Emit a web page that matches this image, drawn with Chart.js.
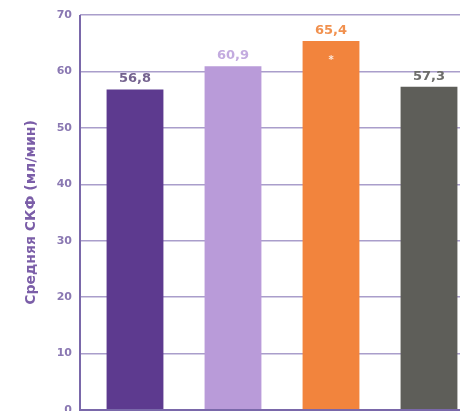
<!DOCTYPE html>
<html>
<head>
<meta charset="utf-8">
<script src="https://cdn.jsdelivr.net/npm/chart.js@4/dist/chart.umd.min.js"></script>
<style>
  html, body { margin: 0; padding: 0; background: #ffffff; overflow: hidden; }
  #wrap { width: 460px; height: 411px; overflow: hidden; position: relative; }
  canvas { display: block; }
</style>
</head>
<body>
<div id="wrap"><canvas id="c" width="482" height="432"></canvas></div>
<script>
const categories = ['Группа 1', 'Группа 2', 'Группа 3', 'Группа 4'];
const values = [56.8, 60.9, 65.4, 57.3];
const valueLabels = ['56,8', '60,9', '65,4', '57,3'];
const markers = ['', '', '*', ''];
const barColors = ['#5d3a8f', '#b99bd9', '#f2843d', '#5e5e59'];
const labelColors = ['#75638f', '#c3abdf', '#f1914f', '#6d6d6b'];
const yTicks = [0, 10, 20, 30, 40, 50, 60, 70];
const yTitle = 'Средняя СКФ (мл/мин)';

const FONT = '"DejaVu Sans", Lato, sans-serif';

const valueLabelPlugin = {
  id: 'valueLabels',
  afterDatasetsDraw(chart) {
    const ctx = chart.ctx;
    const meta = chart.getDatasetMeta(0);
    ctx.save();
    meta.data.forEach((bar, i) => {
      ctx.font = 'bold 13px ' + FONT;
      ctx.textAlign = 'center';
      ctx.textBaseline = 'bottom';
      ctx.fillStyle = labelColors[i];
      ctx.fillText(valueLabels[i], bar.x, bar.y - 4);
      if (markers[i]) {
        ctx.font = 'bold 10px ' + FONT;
        ctx.fillStyle = '#fde8da';
        ctx.textBaseline = 'top';
        ctx.fillText(markers[i], bar.x, bar.y + 14);
      }
    });
    ctx.restore();
  }
};

const axisLinePlugin = {
  id: 'axisLine',
  afterDatasetsDraw(chart) {
    const {ctx, chartArea} = chart;
    const x = chartArea.left - 6;
    ctx.save();
    ctx.strokeStyle = '#7a68aa';
    ctx.lineWidth = 2;
    ctx.beginPath();
    ctx.moveTo(x, chartArea.top);
    ctx.lineTo(x, chartArea.bottom + 1);
    ctx.moveTo(x, chartArea.bottom);
    ctx.lineTo(chartArea.right, chartArea.bottom);
    ctx.stroke();
    ctx.restore();
  }
};

new Chart(document.getElementById('c'), {
  type: 'bar',
  data: {
    labels: categories,
    datasets: [{
      data: values,
      backgroundColor: barColors,
      borderWidth: 0,
      categoryPercentage: 1,
      barPercentage: 0.58
    }]
  },
  options: {
    responsive: false,
    devicePixelRatio: 1,
    animation: false,
    layout: { padding: { top: 15, right: 4, bottom: 22, left: 0 } },
    plugins: { legend: { display: false }, tooltip: { enabled: false } },
    scales: {
      x: {
        display: false
      },
      y: {
        min: 0,
        max: 70,
        afterBuildTicks(scale) { scale.ticks = yTicks.map(v => ({ value: v })); },
        afterFit(scale) { scale.width = 86; },
        border: { display: false },
        grid: {
          color: '#aa9ecb',
          lineWidth: 1.5,
          drawTicks: true,
          tickLength: 6,
          tickColor: '#aa9ecb'
        },
        ticks: {
          padding: 8,
          color: '#8a78b2',
          font: { family: FONT, size: 11, weight: 'bold' }
        },
        title: {
          display: true,
          text: yTitle,
          color: '#7b5ea8',
          font: { family: FONT, size: 14, weight: 'bold' },
          padding: { top: 23, bottom: 0 }
        }
      }
    }
  },
  plugins: [valueLabelPlugin, axisLinePlugin]
});
</script>
</body>
</html>
